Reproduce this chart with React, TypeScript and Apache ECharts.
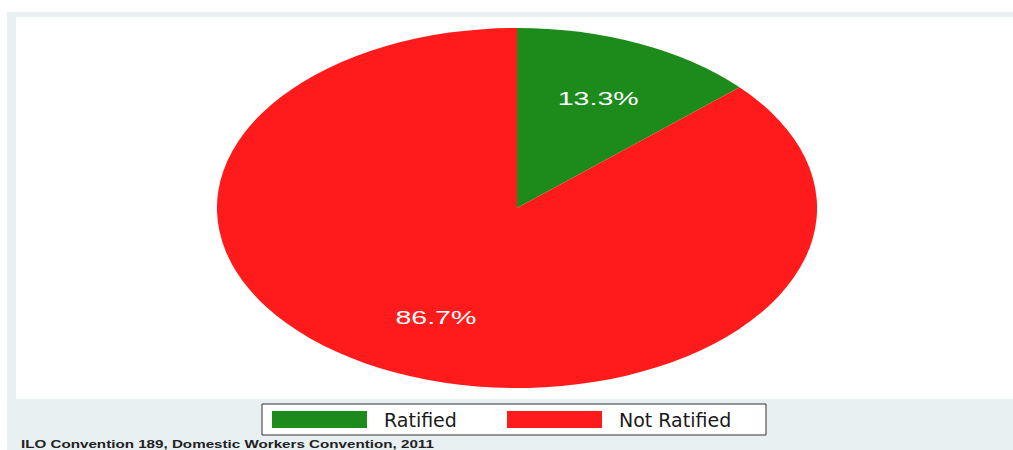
import React, { useEffect, useRef } from "react";
import * as echarts from "echarts";

const categories = ["Ratified", "Not Ratified"];
const values = [13.3, 86.7];
const colors = ["#1c8b1c", "#ff1b1b"];
const caption = "ILO Convention 189, Domestic Workers Convention, 2011";

const CX = 517;
const CY = 208;
const RX = 300;
const RY = 180;

export default function App() {
  const ref = useRef<HTMLDivElement>(null);
  useEffect(() => {
    if (!ref.current) return;
    const chart = echarts.init(ref.current, null, { renderer: "svg" });
    const total = values.reduce((a, b) => a + b, 0);
    const series = categories.map((name, i) => {
      const before = values.slice(0, i).reduce((a, b) => a + b, 0);
      return {
        type: "custom",
        name,
        coordinateSystem: "none",
        itemStyle: { color: colors[i] },
        data: [values[i]],
        silent: true,
        renderItem: (params: any, api: any) => {
          const v = api.value(0);
          const a0 = (before / total) * Math.PI * 2;
          const a1 = ((before + v) / total) * Math.PI * 2;
          const mid = (a0 + a1) / 2;
          const lx = CX + RX * (2 / 3) * Math.sin(mid);
          const ly = CY - RY * (2 / 3) * Math.cos(mid);
          return {
            type: "group",
            children: [
              {
                type: "sector",
                x: CX,
                y: CY,
                scaleX: RX / RY,
                scaleY: 1,
                shape: {
                  cx: 0,
                  cy: 0,
                  r0: 0,
                  r: RY,
                  startAngle: a0 - Math.PI / 2,
                  endAngle: a1 - Math.PI / 2,
                  clockwise: true,
                },
                style: { fill: colors[i] },
              },
              {
                type: "text",
                x: lx,
                y: ly,
                scaleX: 1.5,
                style: {
                  text: ((v / total) * 100).toFixed(1) + "%",
                  fill: "#ffffff",
                  fontSize: 19,
                  fontFamily: "Liberation Sans, Arial, sans-serif",
                  align: "center",
                  verticalAlign: "middle",
                },
              },
            ],
          };
        },
      };
    });

    chart.setOption({
      animation: false,
      backgroundColor: "#ffffff",
      graphic: [
        {
          type: "rect",
          z: -10,
          shape: { x: 7, y: 12, width: 1006, height: 438 },
          style: { fill: "#e8f0f2" },
        },
        {
          type: "rect",
          z: -9,
          shape: { x: 16, y: 17, width: 997, height: 382 },
          style: { fill: "#ffffff" },
        },
        {
          type: "text",
          x: 21,
          y: 444,
          scaleX: 1.38,
          style: {
            text: caption,
            fill: "#222222",
            fontSize: 11,
            fontWeight: "bold",
            fontFamily: "Liberation Sans, Arial, sans-serif",
            verticalAlign: "middle",
          },
        },
      ],
      legend: {
        data: categories,
        left: 262,
        top: 404,
        orient: "horizontal",
        icon: "rect",
        itemWidth: 95,
        itemHeight: 17,
        itemGap: 37,
        padding: [6, 14, 6, 10],
        borderColor: "#333333",
        borderWidth: 1,
        borderRadius: 0,
        backgroundColor: "#ffffff",
        selectedMode: false,
        formatter: (name: string) =>
          "{" + (name === "Ratified" ? "a" : "b") + "|" + name + "}",
        textStyle: {
          rich: {
            a: {
              width: 86,
              padding: [0, 0, 0, 12],
              fontSize: 19,
              color: "#1a1a1a",
              fontFamily: "DejaVu Sans, sans-serif",
              lineHeight: 17,
            },
            b: {
              width: 133,
              padding: [0, 0, 0, 12],
              fontSize: 19,
              color: "#1a1a1a",
              fontFamily: "DejaVu Sans, sans-serif",
              lineHeight: 17,
            },
          },
        },
      },
      series,
    } as any);
    return () => chart.dispose();
  }, []);
  return (
    <div
      ref={ref}
      style={{ position: "fixed", left: 0, top: 0, width: 1013, height: 450 }}
    />
  );
}
